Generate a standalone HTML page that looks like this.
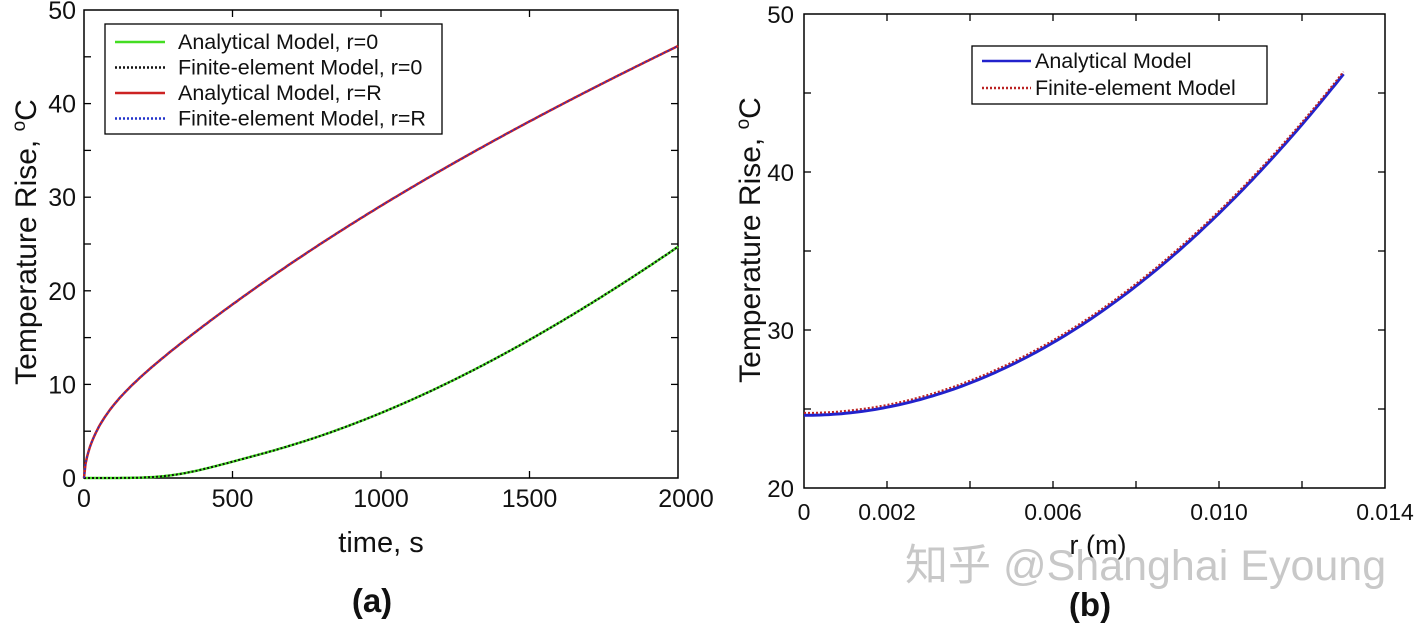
<!DOCTYPE html>
<html><head><meta charset="utf-8"><style>
body{margin:0;background:#fff;width:1415px;height:624px;overflow:hidden}
svg{display:block}
text{font-family:"Liberation Sans",Arial,sans-serif;fill:#111}
</style></head><body>
<svg id="s" width="1415" height="624" viewBox="0 0 1415 624">
<g id="a"></g>
</svg>
<script>
const NS="http://www.w3.org/2000/svg";const g=document.getElementById('a');
function el(t,at,txt){const e=document.createElementNS(NS,t);for(const k in at)e.setAttribute(k,at[k]);if(txt!=null)e.textContent=txt;g.appendChild(e);return e;}
function title(x,y){const t=el('text',{transform:'translate('+x+','+y+') rotate(-90)','text-anchor':'middle','font-size':30});
 const a=document.createElementNS(NS,'tspan');a.textContent='Temperature Rise, ';t.appendChild(a);
 const b=document.createElementNS(NS,'tspan');b.setAttribute('dy','-11');b.setAttribute('font-size','19');b.textContent='o';t.appendChild(b);
 const c=document.createElementNS(NS,'tspan');c.setAttribute('dy','11');c.textContent='C';t.appendChild(c);}
// Left plot
const L={x0:84,x1:678,y0:10,y1:478};
const lx=t=>L.x0+(t/2000)*(L.x1-L.x0), ly=v=>L.y1-(v/50)*(L.y1-L.y0);
el('rect',{x:L.x0,y:L.y0,width:L.x1-L.x0,height:L.y1-L.y0,fill:'none',stroke:'#000','stroke-width':1.5});
for(let v=5;v<50;v+=5){const y=ly(v);el('line',{x1:L.x0,x2:L.x0+7,y1:y,y2:y,stroke:'#000','stroke-width':1.3});el('line',{x1:L.x1,x2:L.x1-7,y1:y,y2:y,stroke:'#000','stroke-width':1.3});}
for(let t=500;t<2000;t+=500){const x=lx(t);el('line',{x1:x,x2:x,y1:L.y1,y2:L.y1-7,stroke:'#000','stroke-width':1.3});el('line',{x1:x,x2:x,y1:L.y0,y2:L.y0+7,stroke:'#000','stroke-width':1.3});}
for(let v=0;v<=50;v+=10)el('text',{x:L.x0-8,y:ly(v)+9,'text-anchor':'end','font-size':25},v);
for(let t=0;t<=2000;t+=500)el('text',{x:lx(t)+(t==2000?8:0),y:507,'text-anchor':'middle','font-size':25},t);
el('text',{x:381,y:552,'text-anchor':'middle','font-size':29},'time, s');
title(36,242);
function up(t){return 0.29*Math.pow(t,0.667)+0.3*Math.sqrt(t)*Math.exp(-t/150);}
function low(t){if(t<=0)return 0;const z=t/2000;return 24.7*Math.pow(z,2.0)*(1.25-0.25*z) * (1-Math.exp(-Math.pow(t/500,3)*3))/(1-Math.exp(-Math.pow(4,3)*3));}
let p1='',p2='';
for(let t=0;t<=2000;t+=5){const u=up(t);p1+=(t?'L':'M')+lx(t).toFixed(1)+','+ly(u).toFixed(1);p2+=(t?'L':'M')+lx(t).toFixed(1)+','+ly(low(t)).toFixed(1);}
el('path',{d:p2,fill:'none',stroke:'#44dd22','stroke-width':2.5});
el('path',{d:p2,fill:'none',stroke:'#111','stroke-width':2,'stroke-dasharray':'2 2'});
el('path',{d:p1,fill:'none',stroke:'#cc2222','stroke-width':2.5});
el('path',{d:p1,fill:'none',stroke:'#2233cc','stroke-width':1.5,'stroke-dasharray':'2 2'});
el('rect',{x:105,y:24,width:337,height:110,fill:'#fff',stroke:'#000','stroke-width':1.3});
const leg=[['#44dd22','','Analytical Model, r=0'],['#111','2 2','Finite-element Model, r=0'],['#cc2222','','Analytical Model, r=R'],['#2233cc','2 2','Finite-element Model, r=R']];
leg.forEach((l,i)=>{const y=42+i*25.5;el('line',{x1:115,x2:165,y1:y,y2:y,stroke:l[0],'stroke-width':2.5,'stroke-dasharray':l[1]});el('text',{x:178,y:y+7,'font-size':21.5},l[2]);});
el('text',{x:372,y:612,'text-anchor':'middle','font-size':33,'font-weight':'bold'},'(a)');
// Right plot
const R={x0:804,x1:1385,y0:14,y1:488};
const rx=r=>R.x0+(r/0.014)*(R.x1-R.x0), ry=v=>R.y1-((v-20)/30)*(R.y1-R.y0);
el('rect',{x:R.x0,y:R.y0,width:R.x1-R.x0,height:R.y1-R.y0,fill:'none',stroke:'#000','stroke-width':1.5});
for(let v=25;v<50;v+=5){const y=ry(v);el('line',{x1:R.x0,x2:R.x0+7,y1:y,y2:y,stroke:'#000','stroke-width':1.3});el('line',{x1:R.x1,x2:R.x1-7,y1:y,y2:y,stroke:'#000','stroke-width':1.3});}
for(let i=1;i<7;i++){const x=rx(i*0.002);el('line',{x1:x,x2:x,y1:R.y1,y2:R.y1-7,stroke:'#000','stroke-width':1.3});el('line',{x1:x,x2:x,y1:R.y0,y2:R.y0+7,stroke:'#000','stroke-width':1.3});}
for(let v=20;v<=50;v+=10)el('text',{x:R.x0-10,y:ry(v)+9,'text-anchor':'end','font-size':24},v);
[['0',0],['0.002',0.002],['0.006',0.006],['0.010',0.010],['0.014',0.014]].forEach(a=>el('text',{x:rx(a[1]),y:520,'text-anchor':'middle','font-size':23},a[0]));
el('text',{x:1098,y:554,'text-anchor':'middle','font-size':27},'r (m)');
title(760,240);
let q1='',q2='';
for(let r=0;r<=0.01301;r+=0.0001){const v=24.6+127800*r*r;q1+=(r?'L':'M')+rx(r).toFixed(1)+','+ry(v).toFixed(1);q2+=(r?'L':'M')+rx(r).toFixed(1)+','+ry(v+0.15).toFixed(1);}
el('path',{d:q1,fill:'none',stroke:'#2222cc','stroke-width':3});
el('path',{d:q2,fill:'none',stroke:'#bb2222','stroke-width':2,'stroke-dasharray':'2 2'});
el('rect',{x:972,y:46,width:295,height:58,fill:'#fff',stroke:'#000','stroke-width':1.3});
el('line',{x1:982,x2:1031,y1:61,y2:61,stroke:'#2222cc','stroke-width':2.5});
el('text',{x:1035,y:68,'font-size':21.5},'Analytical Model');
el('line',{x1:982,x2:1031,y1:88,y2:88,stroke:'#bb2222','stroke-width':2.5,'stroke-dasharray':'2 2'});
el('text',{x:1035,y:95,'font-size':21.5},'Finite-element Model');
el('text',{x:905,y:580,'font-size':43,style:'font-family:"Liberation Sans","Noto Sans CJK SC",sans-serif;fill:#c8c8c8'},'知乎 @Shanghai Eyoung');
el('text',{x:1090,y:616,'text-anchor':'middle','font-size':33,'font-weight':'bold'},'(b)');
</script>
</body></html>
